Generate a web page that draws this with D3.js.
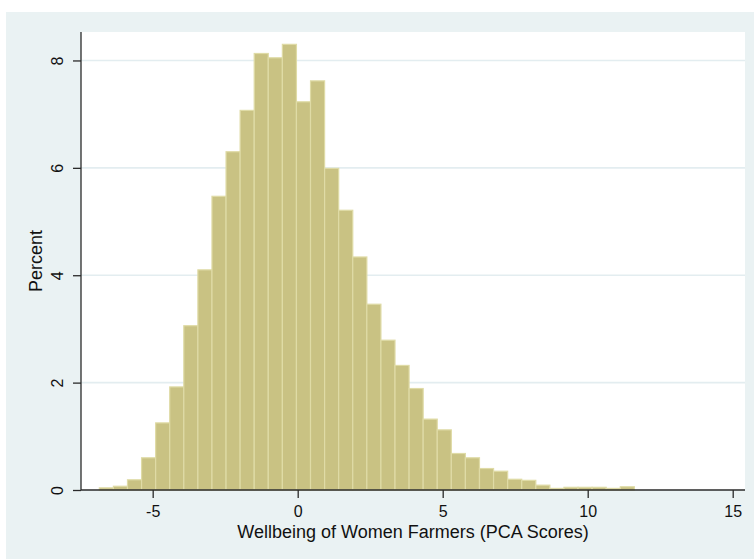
<!DOCTYPE html>
<html>
<head>
<meta charset="utf-8">
<script src="https://d3js.org/d3.v7.min.js"></script>
<style>
	body { margin: 0; background: #ffffff; }
	svg { display: block; }
</style>
</head>
<body>
<div id="chart"></div>
<script>
// histogram bins: first left edge and width, in PCA score units
var binStart = -6.84;
var binWidth = 0.4855;

// percent of women farmers in each bin, read left to right
var percents = [0.04, 0.07, 0.19, 0.60, 1.25, 1.92, 3.06, 4.10, 5.47, 6.30,
	7.07, 8.13, 8.05, 8.30, 7.23, 7.62, 5.99, 5.21, 4.34, 3.46,
	2.79, 2.32, 1.89, 1.32, 1.12, 0.68, 0.60, 0.40, 0.35, 0.20,
	0.18, 0.09, 0.03, 0.05, 0.05, 0.05, 0.03, 0.06];

var xTicks = [-5, 0, 5, 10, 15];
var yTicks = [0, 2, 4, 6, 8];

var xTitle = "Wellbeing of Women Farmers (PCA Scores)";
var yTitle = "Percent";

var width = 754,
	height = 559;

var plot = {left: 81, right: 745, top: 32, bottom: 490};

var xScale = d3.scaleLinear()
	.domain([-7.472, 15.424])
	.range([plot.left, plot.right]);

var yScale = d3.scaleLinear()
	.domain([0, 8.53])
	.range([plot.bottom, plot.top]);

var font = "'Liberation Sans', Arial, sans-serif";

var svg = d3.select("#chart").append("svg")
	.attr("width", width)
	.attr("height", height);

//graph region (light blue-grey) and white plot region
svg.append("rect")
	.attr("x", 6).attr("y", 12)
	.attr("width", width - 6).attr("height", height - 12)
	.style("fill", "#eaf2f3");

svg.append("rect")
	.attr("x", plot.left).attr("y", plot.top)
	.attr("width", plot.right - plot.left)
	.attr("height", plot.bottom - plot.top)
	.style("fill", "#ffffff");

//horizontal grid lines
svg.append("g").selectAll("line")
	.data(yTicks.filter(function(d){ return d > 0; }))
	.enter().append("line")
		.attr("x1", plot.left).attr("x2", plot.right)
		.attr("y1", function(d){ return yScale(d); })
		.attr("y2", function(d){ return yScale(d); })
		.style("stroke", "#e3edf0")
		.style("stroke-width", 1.6);

//bars
svg.append("g").selectAll("rect")
	.data(percents)
	.enter().append("rect")
		.attr("x", function(d, i){
			return xScale(binStart + i * binWidth);
		})
		.attr("width", function(d, i){
			return xScale(binStart + (i + 1) * binWidth) - xScale(binStart + i * binWidth);
		})
		.attr("y", function(d){ return yScale(d); })
		.attr("height", function(d){ return yScale(0) - yScale(d); })
		.style("fill", "#c9c283")
		.style("stroke", "#dfdba6")
		.style("stroke-width", 1.2);

//axes
var xAxis = d3.axisBottom(xScale)
	.tickValues(xTicks)
	.tickSize(8)
	.tickPadding(8)
	.tickFormat(d3.format("d"));

var yAxis = d3.axisLeft(yScale)
	.tickValues(yTicks)
	.tickSize(8)
	.tickFormat(d3.format("d"));

var gx = svg.append("g")
	.attr("transform", "translate(0," + plot.bottom + ")")
	.call(xAxis);

gx.select(".domain")
	.attr("d", "M" + plot.left + ",0H" + plot.right);

gx.selectAll("text")
	.style("font-family", font)
	.style("font-size", "16px")
	.style("fill", "#111")
	.text(function(d){ return d < 0 ? "-" + Math.abs(d) : d; });

var gy = svg.append("g")
	.attr("transform", "translate(" + plot.left + ",0)")
	.call(yAxis);

gy.select(".domain")
	.attr("d", "M0," + plot.top + "V" + plot.bottom);

//stata puts y labels sideways
gy.selectAll("text")
	.attr("x", null).attr("dy", null)
	.attr("transform", "translate(-18,0) rotate(-90)")
	.style("text-anchor", "middle")
	.style("font-family", font)
	.style("font-size", "16px")
	.style("fill", "#111");

svg.selectAll(".domain, .tick line")
	.style("stroke", "#2a2a2a")
	.style("stroke-width", 1.3);

//axis titles
svg.append("text")
	.attr("x", (plot.left + plot.right) / 2)
	.attr("y", 538)
	.style("text-anchor", "middle")
	.style("font-family", font)
	.style("font-size", "18px")
	.style("fill", "#111")
	.text(xTitle);

svg.append("text")
	.attr("transform", "translate(42," + (plot.top + plot.bottom) / 2 + ") rotate(-90)")
	.style("text-anchor", "middle")
	.style("font-family", font)
	.style("font-size", "18px")
	.style("fill", "#111")
	.text(yTitle);
</script>
</body>
</html>
